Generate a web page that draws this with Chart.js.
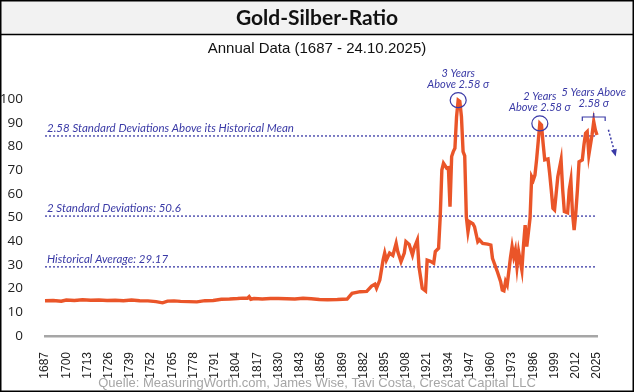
<!DOCTYPE html>
<html>
<head>
<meta charset="utf-8">
<script src="https://cdn.jsdelivr.net/npm/chart.js@4.4.1/dist/chart.umd.min.js"></script>
<style>
  html, body { margin: 0; padding: 0; background: #fff; }
  #wrap { width: 634px; height: 392px; position: relative; }
</style>
</head>
<body>
<div id="wrap"><canvas id="ratioChart" width="634" height="392"></canvas></div>
<script>
// Jahreswerte
const years = [1687, 1692, 1697, 1700, 1705, 1710, 1715, 1720, 1725, 1730, 1735, 1740, 1745, 1750, 1755, 1759, 1762, 1766, 1770, 1775,
  1780, 1785, 1790, 1795, 1800, 1805, 1808, 1811, 1812, 1813, 1815, 1820, 1825, 1830, 1835, 1840, 1845, 1850, 1855, 1860,
  1866, 1872, 1875, 1880, 1884, 1887, 1889, 1890, 1892, 1894, 1895, 1896, 1898, 1900, 1902, 1903, 1905, 1907, 1908, 1910,
  1912, 1913, 1915, 1916, 1918, 1920, 1921, 1923, 1925, 1926, 1928, 1929, 1930, 1931, 1933, 1934, 1935, 1936, 1937, 1938,
  1939, 1940, 1941, 1942, 1943, 1944, 1945, 1946, 1947, 1949, 1950, 1952, 1953, 1955, 1958, 1960, 1961, 1964, 1966, 1967,
  1968, 1969, 1970, 1972, 1973, 1974, 1975, 1976, 1977, 1979, 1980, 1981, 1982, 1984, 1985, 1986, 1987, 1988, 1989, 1990,
  1991, 1992, 1993, 1995, 1996, 1997, 1998, 1999, 2000, 2001, 2003, 2004, 2005, 2007, 2008, 2009, 2010, 2011, 2012, 2013,
  2014, 2016, 2017, 2018, 2019, 2020, 2022, 2023, 2024, 2025];
const ratio = [14.9, 15.0, 14.7, 15.2, 15.0, 15.3, 15.1, 15.2, 15.0, 15.1, 14.9, 15.2, 14.9, 14.8, 14.5, 14.0, 14.7, 14.8, 14.6, 14.5,
  14.4, 14.9, 15.0, 15.5, 15.6, 15.8, 16.0, 15.9, 16.6, 15.5, 15.8, 15.6, 15.8, 15.8, 15.7, 15.6, 15.9, 15.7, 15.4, 15.3,
  15.4, 15.6, 18.0, 18.7, 18.8, 21.1, 21.9, 20.2, 23.6, 32.0, 35.0, 32.0, 35.0, 34.0, 39.1, 35.6, 31.4, 35.0, 39.8, 38.6,
  34.2, 37.0, 40.5, 29.2, 20.1, 19.0, 32.0, 31.5, 30.7, 35.6, 37.0, 50.3, 70.0, 72.9, 70.8, 71.0, 54.6, 75.7, 77.8, 79.2,
  92.5, 99.5, 99.0, 92.5, 77.8, 76.0, 50.3, 44.0, 48.2, 47.4, 46.1, 39.8, 40.6, 39.1, 38.8, 38.4, 32.8, 27.1, 22.9, 19.4,
  19.1, 23.0, 21.5, 33.0, 37.7, 33.5, 36.3, 29.2, 35.6, 27.8, 38.4, 46.8, 37.7, 49.7, 67.2, 65.8, 67.9, 74.3, 82.0, 89.7,
  89.0, 81.3, 74.3, 74.7, 68.6, 61.6, 53.9, 53.2, 60.2, 67.2, 74.3, 61.6, 52.5, 52.0, 61.6, 65.8, 51.8, 44.7, 51.8, 61.6,
  73.5, 74.3, 80.6, 85.5, 86.2, 76.4, 85.0, 90.5, 86.9, 84.8];

// Achsenbeschriftung
const tickYears = [1687, 1700, 1713, 1726, 1739, 1752, 1765, 1778, 1791, 1804, 1817, 1830, 1843, 1856, 1869, 1882, 1895,
  1908, 1921, 1934, 1947, 1960, 1973, 1986, 1999, 2012, 2025];

// Referenzlinien
const refLevels = [84.4, 50.6, 29.17];
const refLabels = ['2.58 Standard Deviations Above its Historical Mean', '2 Standard Deviations: 50.6', 'Historical Average: 29.17'];

// Markierte Spitzen
const peakYears = [1940, 1990];
const peakNotes = [['3 Years', 'Above 2.58 σ'], ['2 Years', 'Above 2.58 σ']];

const blue = '#3a3aa6';
const firstYear = years[0];
const lastYear = years[years.length - 1];

const datasets = [{
    data: years.map((y, i) => ({ x: y, y: ratio[i] })),
    borderColor: '#ea5529',
    borderWidth: 3.4,
    pointRadius: 0,
    tension: 0,
    clip: false,
    order: 0
}];
refLevels.forEach(level => {
    datasets.push({
        data: [{ x: firstYear, y: level }, { x: lastYear, y: level }],
        borderColor: blue,
        borderWidth: 1.3,
        borderDash: [2, 2],
        pointRadius: 0,
        order: 1
    });
});

// Rahmen, Titel und Quelle
const framePlugin = {
    id: 'frame',
    beforeDraw(chart) {
        const c = chart.ctx;
        const w = chart.width, h = chart.height;
        c.save();
        c.fillStyle = '#fff';
        c.fillRect(0, 0, w, h);
        c.fillStyle = '#f2f2f2';
        c.fillRect(0, 0, w, 34);
        c.strokeStyle = '#000';
        c.lineWidth = 1.5;
        c.beginPath();
        c.moveTo(0, 34.5);
        c.lineTo(w, 34.5);
        c.stroke();
        c.strokeRect(0.75, 0.75, w - 1.5, h - 1.5);

        c.fillStyle = '#111';
        c.textAlign = 'center';
        c.textBaseline = 'middle';
        c.font = 'bold 21px Lato';
        c.fillText('Gold-Silber-Ratio', w / 2, 18);
        c.font = '15px "Liberation Sans"';
        c.fillText('Annual Data (1687 - 24.10.2025)', w / 2, 49);
        c.fillStyle = '#a6a6a6';
        c.font = '13px "Liberation Sans"';
        c.fillText('Quelle: MeasuringWorth.com, James Wise, Tavi Costa, Crescat Capital LLC', w / 2, 383);
        c.restore();
    },
    afterDatasetsDraw(chart) {
        const c = chart.ctx;
        const xs = chart.scales.x, ys = chart.scales.y;
        c.save();
        c.fillStyle = blue;
        c.strokeStyle = blue;
        c.font = 'italic 11.5px Lato';
        c.textBaseline = 'bottom';
        c.textAlign = 'left';
        refLevels.forEach((level, i) => {
            c.fillText(refLabels[i], xs.left + 2, ys.getPixelForValue(level) - 2);
        });

        // Kreise um die Spitzen
        c.font = 'italic 11px Lato';
        c.textAlign = 'center';
        c.textBaseline = 'middle';
        c.lineWidth = 1.2;
        peakYears.forEach((yr, i) => {
            const px = xs.getPixelForValue(yr);
            const py = ys.getPixelForValue(ratio[years.indexOf(yr)]);
            c.beginPath();
            c.ellipse(px, py, 8, 7.5, 0, 0, Math.PI * 2);
            c.stroke();
            c.fillText(peakNotes[i][0], px, py - 27);
            c.fillText(peakNotes[i][1], px, py - 15.5);
        });

        // Klammer für die letzten 5 Jahre
        const bx1 = xs.getPixelForValue(2016), bx2 = xs.getPixelForValue(2030);
        const by = 117;
        c.beginPath();
        c.moveTo(bx1, by + 4);
        c.lineTo(bx1, by);
        c.lineTo(bx2, by);
        c.lineTo(bx2, by + 4);
        c.moveTo((bx1 + bx2) / 2, by);
        c.lineTo((bx1 + bx2) / 2, by - 4);
        c.stroke();
        c.fillText('5 Years Above', (bx1 + bx2) / 2, 92);
        c.fillText('2.58 σ', (bx1 + bx2) / 2, 103.5);

        // gestrichelter Pfeil nach unten
        const ax1 = xs.getPixelForValue(2032), ay1 = ys.getPixelForValue(87);
        const ax2 = xs.getPixelForValue(2036), ay2 = ys.getPixelForValue(77);
        c.setLineDash([2, 2]);
        c.lineWidth = 1.5;
        c.beginPath();
        c.moveTo(ax1, ay1);
        c.lineTo(ax2, ay2);
        c.stroke();
        c.setLineDash([]);
        const ang = Math.atan2(ay2 - ay1, ax2 - ax1);
        c.beginPath();
        c.moveTo(ax2 + Math.cos(ang) * 3, ay2 + Math.sin(ang) * 3);
        c.lineTo(ax2 + Math.cos(ang + 2.5) * 5, ay2 + Math.sin(ang + 2.5) * 5);
        c.lineTo(ax2 + Math.cos(ang - 2.5) * 5, ay2 + Math.sin(ang - 2.5) * 5);
        c.closePath();
        c.fill();
        c.restore();
    }
};

const ctx = document.getElementById('ratioChart').getContext('2d');
const ratioChart = new Chart(ctx, {
    type: 'line',
    data: { datasets: datasets },
    options: {
        responsive: false,
        animation: false,
        devicePixelRatio: 1,
        layout: { padding: { top: 99, right: 37, left: 0, bottom: 0 } },
        plugins: {
            legend: { display: false },
            tooltip: { enabled: false }
        },
        scales: {
            x: {
                type: 'linear',
                min: firstYear,
                max: lastYear,
                grid: { display: false },
                border: { display: true, color: '#a6a6a6', width: 2.5 },
                afterBuildTicks: scale => {
                    scale.ticks = tickYears.map(v => ({ value: v }));
                },
                afterFit: scale => { scale.height = 56; },
                ticks: {
                    autoSkip: false,
                    minRotation: 90,
                    maxRotation: 90,
                    padding: 8,
                    color: '#222',
                    font: { family: 'Liberation Sans', size: 12 },
                    callback: v => String(v)
                }
            },
            y: {
                min: 0,
                max: 100,
                grid: { display: false },
                border: { display: false },
                afterFit: scale => { scale.width = 45; },
                ticks: {
                    stepSize: 10,
                    padding: 14,
                    color: '#222',
                    font: { family: 'Open Sans', size: 13.5 }
                }
            }
        }
    },
    plugins: [framePlugin]
});
</script>
</body>
</html>
